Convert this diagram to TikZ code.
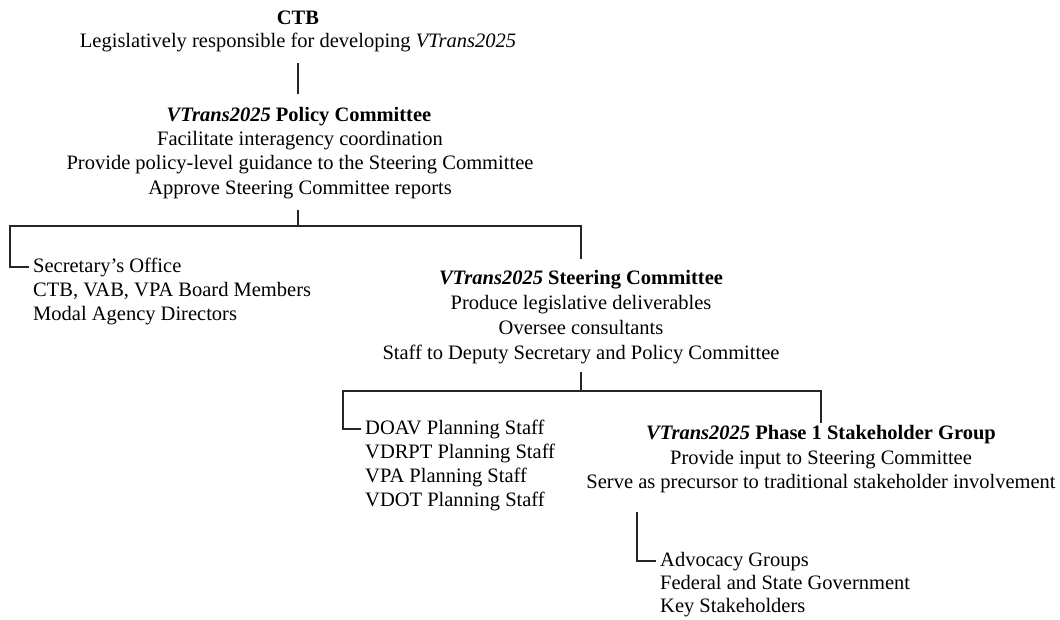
\documentclass[tikz,border=0pt]{standalone}
\usepackage{fontspec}
\setmainfont{Liberation Serif}
\newcommand\dfont{\fontsize{20.5}{24}\selectfont}
\begin{document}
\begin{tikzpicture}[x=1pt,y=-1pt,
  txt/.style={inner sep=0pt, anchor=base, font=\dfont, text=black},
  lst/.style={txt, anchor=base west},
  link/.style={line width=1.3pt, draw=black!85}]
\useasboundingbox[fill=white] (0,0) rectangle (1060,619);

% CTB
\node[txt, font=\dfont\bfseries] (ctb1) at (298,24) {CTB};
\node[txt] (ctb2) at (298,47) {Legislatively responsible for developing \textit{VTrans2025}};

% Policy Committee
\node[txt] (pol1) at (299,121) {\textbf{\textit{VTrans2025}} \textbf{Policy Committee}};
\node[txt] (pol2) at (300,145) {Facilitate interagency coordination};
\node[txt] (pol3) at (300,169) {Provide policy-level guidance to the Steering Committee};
\node[txt] (pol4) at (300,194) {Approve Steering Committee reports};

% Left list 1
\node[lst] (sec1) at (33,272) {Secretary's Office};
\node[lst] (sec2) at (33,296) {CTB, VAB, VPA Board Members};
\node[lst] (sec3) at (33,320) {Modal Agency Directors};

% Steering Committee
\node[txt] (st1) at (581,284) {\textbf{\textit{VTrans2025}} \textbf{Steering Committee}};
\node[txt] (st2) at (581,309) {Produce legislative deliverables};
\node[txt] (st3) at (581,334) {Oversee consultants};
\node[txt] (st4) at (581,359) {Staff to Deputy Secretary and Policy Committee};

% Left list 2
\node[lst] (pl1) at (365,434) {DOAV Planning Staff};
\node[lst] (pl2) at (365,458) {VDRPT Planning Staff};
\node[lst] (pl3) at (365,482) {VPA Planning Staff};
\node[lst] (pl4) at (365,506) {VDOT Planning Staff};

% Phase 1 Stakeholder Group
\node[txt] (ph1) at (821,439) {\textbf{\textit{VTrans2025}} \textbf{Phase 1 Stakeholder Group}};
\node[txt] (ph2) at (821,464) {Provide input to Steering Committee};
\node[txt] (ph3) at (821,488) {Serve as precursor to traditional stakeholder involvement};

% Stakeholders list
\node[lst] (ad1) at (660,566) {Advocacy Groups};
\node[lst] (ad2) at (660,589) {Federal and State Government};
\node[lst] (ad3) at (660,612) {Key Stakeholders};

% junction coordinates
\coordinate (c1) at (298,63);
\coordinate (c2) at (298,94);
\coordinate (p4b) at (298,210);
\coordinate (j1) at (298,226);
\coordinate (lft1) at (10,226);
\coordinate (j2) at (581,391);
\coordinate (lft2) at (343,391);
\coordinate (pv) at (637,512);

% connectors
\draw[link] (c1) -- (c2);
\draw[link] (p4b) -- (j1);
\draw[link] ([xshift=-4pt]sec1.west) -| (lft1) -| ([yshift=11pt]st1.north);
\draw[link] ([yshift=-8pt]st4.south) -- (j2);
\draw[link] ([xshift=-4pt]pl1.west) -| (lft2) -| ([yshift=2pt]ph1.north);
\draw[link] (pv) |- ([xshift=-4pt]ad1.west);
\end{tikzpicture}
\end{document}
